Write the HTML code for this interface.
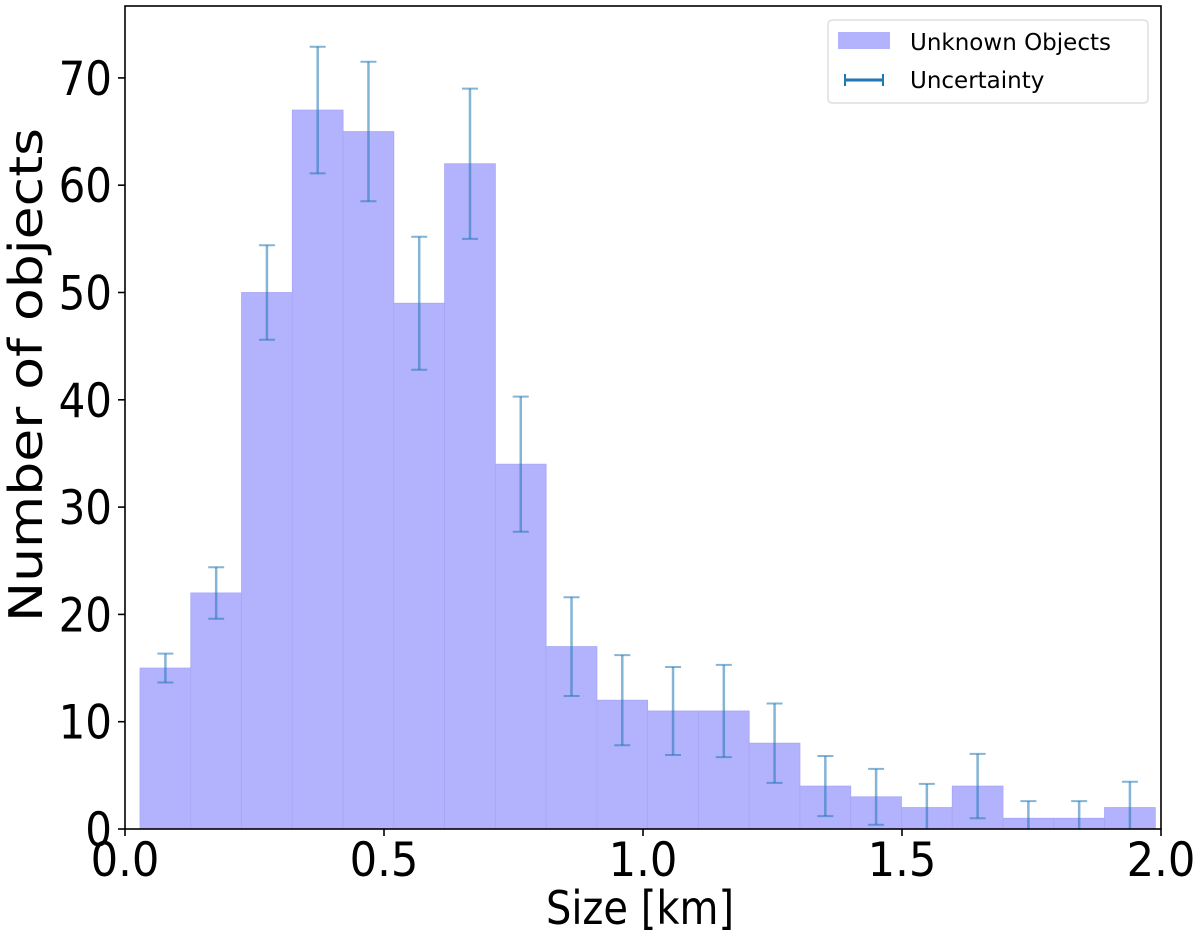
<!DOCTYPE html>
<html><head><meta charset="utf-8"><style>
body{margin:0;background:#fff;}
svg text{font-family:"DejaVu Sans","Liberation Sans",sans-serif;fill:#000;}
</style></head><body>
<svg id="chart" width="1200" height="939" viewBox="0 0 1200 939" xmlns="http://www.w3.org/2000/svg">
<g id="bars"></g>
<g id="errs"></g>
<g id="axes"></g>
<text transform="translate(640,924) scale(1,1.15)" x="0" y="0" font-size="40" text-anchor="middle">Size [km]</text>
<text transform="translate(42,375) rotate(-90) scale(1,1.1)" font-size="42" text-anchor="middle" textLength="494" lengthAdjust="spacingAndGlyphs">Number of objects</text>
<g>
<rect x="828" y="20" width="320" height="83" rx="4" fill="#fff" stroke="#ddd" stroke-width="1.5"/>
<rect x="838" y="32" width="52" height="17" fill="#b3b3fd"/>
<text x="910" y="50" font-size="23">Unknown Objects</text>
<line x1="845" y1="80" x2="883" y2="80" stroke="#1f77b4" stroke-width="3"/>
<line x1="845" y1="74" x2="845" y2="86" stroke="#1f77b4" stroke-width="2"/>
<line x1="883" y1="74" x2="883" y2="86" stroke="#1f77b4" stroke-width="2"/>
<text x="910" y="88" font-size="23">Uncertainty</text>
</g>
</svg>
<script>
const counts=[15,22,50,67,65,49,62,34,17,12,11,11,8,4,3,2,4,1,1,2];
const errors=[1.35,2.4,4.4,5.9,6.5,6.2,7,6.3,4.6,4.2,4.1,4.3,3.7,2.8,2.6,2.2,3,1.6,1.6,2.4];
const binStart=0.029, binWidth=0.098;
const xTicks=[0,0.5,1.0,1.5,2.0];
const xTickLabels=["0.0","0.5","1.0","1.5","2.0"];
const yTicks=[0,10,20,30,40,50,60,70];
const X0=125,X1=1161,Y0=829,YT=6;
const sx=v=>X0+(X1-X0)*v/2.0;
const sy=v=>Y0-v*10.73;
const NS="http://www.w3.org/2000/svg";
function mk(tag,attrs,parent){const e=document.createElementNS(NS,tag);for(const k in attrs)e.setAttribute(k,attrs[k]);parent.appendChild(e);return e;}
const bars=document.getElementById('bars'),errs=document.getElementById('errs'),axes=document.getElementById('axes');
counts.forEach((c,i)=>{
 const a=sx(binStart+i*binWidth),b=sx(binStart+(i+1)*binWidth);
 const r=mk('rect',{x:a,y:sy(c),width:b-a,height:Y0-sy(c),fill:'#b3b3fd',stroke:'#a6a6f5','stroke-width':0.8},bars);
 
 
 const cx=(a+b)/2,lo=Math.max(0,c-errors[i]),hi=c+errors[i];
 const g=mk('g',{stroke:'#1f77b4','stroke-opacity':0.55,'stroke-width':2.5},errs);
 
 
 mk('line',{x1:cx,x2:cx,y1:sy(lo),y2:sy(hi)},g);
 mk('line',{x1:cx-8,x2:cx+8,y1:sy(hi),y2:sy(hi),'stroke-width':2},g);
 if(lo>0)mk('line',{x1:cx-8,x2:cx+8,y1:sy(lo),y2:sy(lo),'stroke-width':2},g);
});
mk('rect',{x:X0,y:YT,width:X1-X0,height:Y0-YT,fill:'none',stroke:'#000','stroke-width':1.6},axes);
xTicks.forEach((t,i)=>{
 mk('line',{x1:sx(t),x2:sx(t),y1:Y0,y2:Y0+7,stroke:'#000','stroke-width':1.6},axes);
 const tx=mk('text',{transform:'translate('+sx(t)+','+(Y0+47)+') scale(1.03,1.12)','font-size':42,'text-anchor':'middle'},axes);
 tx.textContent=xTickLabels[i];
 
 
});
yTicks.forEach(t=>{
 mk('line',{x1:X0-7,x2:X0,y1:sy(t),y2:sy(t),stroke:'#000','stroke-width':1.6},axes);
 const tx=mk('text',{transform:'translate('+(X0-13)+','+(sy(t)+17)+') scale(1,1.12)','font-size':42,'text-anchor':'end'},axes);
 tx.textContent=String(t);
 
 
});
</script>
</body></html>
